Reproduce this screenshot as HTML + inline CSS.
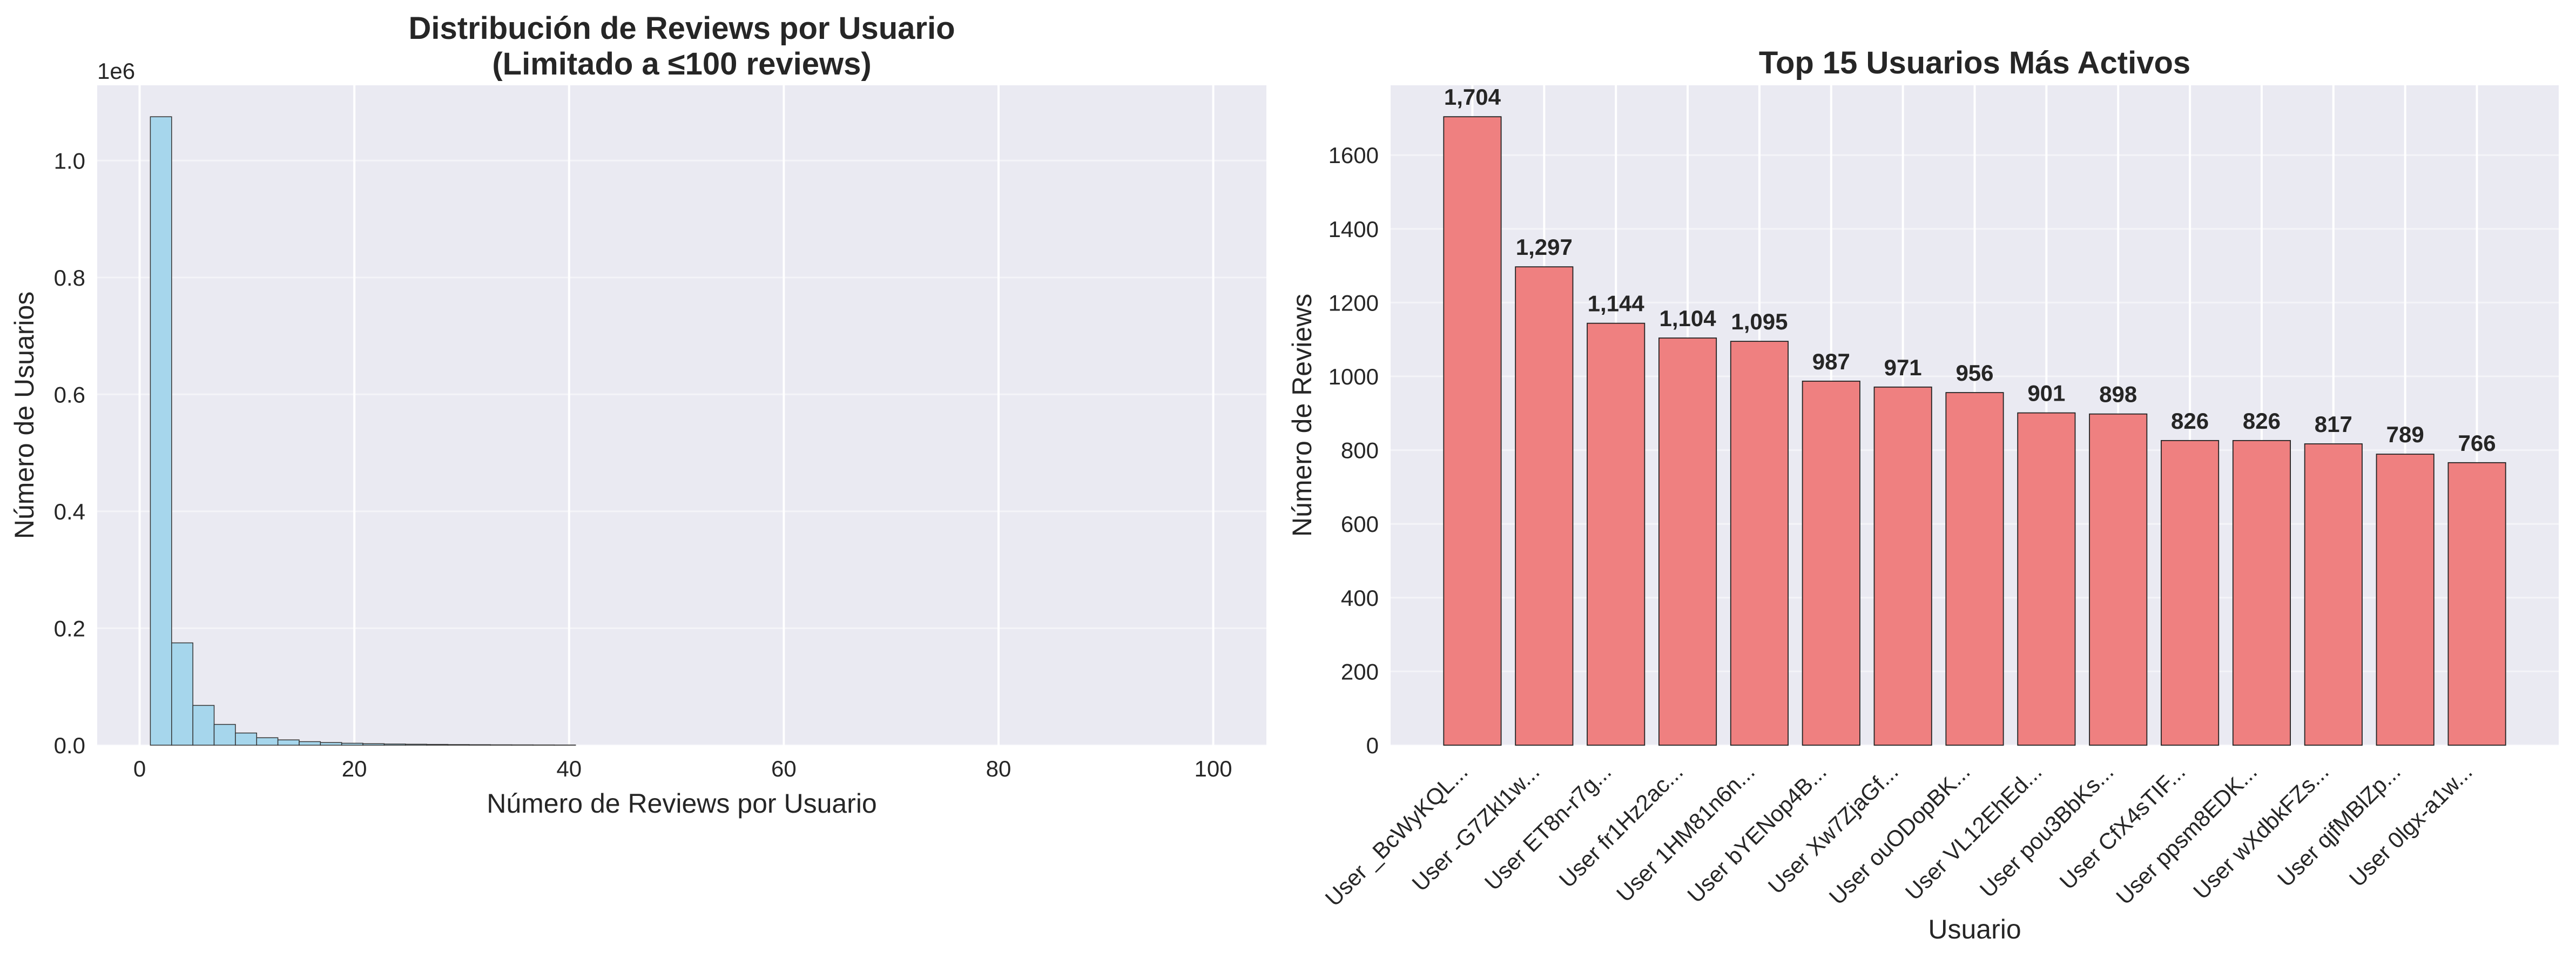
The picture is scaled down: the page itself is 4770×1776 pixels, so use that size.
<!DOCTYPE html>
<html><head><meta charset="utf-8"><style>
html,body{margin:0;padding:0;background:#fff;}
svg{display:block;font-family:"Liberation Sans",sans-serif;}
</style></head><body>
<svg id="fig" width="4770" height="1776" viewBox="0 0 4770 1776" xmlns="http://www.w3.org/2000/svg">
<rect width="4770" height="1776" fill="#fff"/>
<g id="left"></g>
<g id="right"></g>
</svg>
<script>
// ---- Histogram data ----
const histBinStart = 1;
const histBinWidth = 1.98;
const histCounts = [1075000,175000,68000,35500,20800,12700,9000,6000,4500,3300,2500,2000,1600,1300,1000,800,600,500,400,300,0,0,0,0,0,0,0,0,0,0,0,0,0,0,0,0,0,0,0,0,0,0,0,0,0,0,0,0,0,0];
const histXTicks = [0,20,40,60,80,100];
const histYTicks = [0,0.2,0.4,0.6,0.8,1.0];
// ---- Top users data ----
const userNames = ["User _BcWyKQL...","User -G7Zkl1w...","User ET8n-r7g...","User fr1Hz2ac...","User 1HM81n6n...","User bYENop4B...","User Xw7ZjaGf...","User ouODopBK...","User VL12EhEd...","User pou3BbKs...","User CfX4sTIF...","User ppsm8EDK...","User wXdbkFZs...","User qjfMBlZp...","User 0lgx-a1w..."];
const userReviews = [1704,1297,1144,1104,1095,987,971,956,901,898,826,826,817,789,766];
const userYTicks = [0,200,400,600,800,1000,1200,1400,1600];

const NS="http://www.w3.org/2000/svg";
function mk(parent,tag,attrs,text){const e=document.createElementNS(NS,tag);for(const k in attrs)e.setAttribute(k,attrs[k]);if(text!==undefined)e.textContent=text;parent.appendChild(e);return e;}
const TXT="#262626";
const TICK=42, AXT=50, TTL=58, VAL=42;

// ---------- LEFT ----------
(function(){
  const g=document.getElementById('left');
  const L=180,R=2345,T=158,B=1380;
  const xmin=-3.95,xmax=104.95;
  const ymax=Math.max(...histCounts)*1.05;
  const sx=v=>L+(v-xmin)/(xmax-xmin)*(R-L);
  const sy=v=>B-v/ymax*(B-T);
  const bg=mk(g,'rect',{x:L,y:T,width:R-L,height:B-T,fill:'#eaeaf2'});
  
  
  histYTicks.forEach(t=>{
    const y=sy(t*1e6);
    const ln=mk(g,'line',{x1:L,x2:R,y1:y,y2:y,stroke:'#ffffff',"stroke-width":3,opacity:0.5});
    
    
    const tx=mk(g,'text',{x:L-22,y:y+15,"text-anchor":"end","font-size":TICK,fill:TXT},t.toFixed(1));
    
    
  });
  histXTicks.forEach(t=>{
    const x=sx(t);
    const ln=mk(g,'line',{x1:x,x2:x,y1:T,y2:B,stroke:'#ffffff',"stroke-width":4});
    
    
    const tx=mk(g,'text',{x:x,y:B+58,"text-anchor":"middle","font-size":TICK,fill:TXT},String(t));
    
    
  });
  histCounts.forEach((c,i)=>{
    if(c<=0) return;
    const x0=sx(histBinStart+i*histBinWidth),x1=sx(histBinStart+(i+1)*histBinWidth);
    const r=mk(g,'rect',{x:x0,y:sy(c),width:x1-x0,height:B-sy(c),fill:'#a6d6ec',stroke:'#333',"stroke-width":1.5});
    
    
  });
  const s=mk(g,'text',{x:L,y:146,"font-size":TICK,fill:TXT},'1e6');
  
  
  const t1=mk(g,'text',{x:(L+R)/2,y:72,"text-anchor":"middle","font-size":TTL,"font-weight":"bold",fill:TXT},'Distribución de Reviews por Usuario');
  
  
  const t2=mk(g,'text',{x:(L+R)/2,y:138,"text-anchor":"middle","font-size":TTL,"font-weight":"bold",fill:TXT},'(Limitado a ≤100 reviews)');
  
  
  const xl=mk(g,'text',{x:(L+R)/2,y:1505,"text-anchor":"middle","font-size":AXT,fill:TXT},'Número de Reviews por Usuario');
  
  
  const yl=mk(g,'text',{x:0,y:0,"text-anchor":"middle","font-size":AXT,fill:TXT,transform:`translate(62,${(T+B)/2}) rotate(-90)`},'Número de Usuarios');
  
  
})();

// ---------- RIGHT ----------
(function(){
  const g=document.getElementById('right');
  const L=2575,R=4738,T=158,B=1380;
  const n=userReviews.length;
  const xmin=-0.4-0.05*(n-0.2),xmax=n-1+0.4+0.05*(n-0.2);
  const ymax=Math.max(...userReviews)*1.05;
  const sx=v=>L+(v-xmin)/(xmax-xmin)*(R-L);
  const sy=v=>B-v/ymax*(B-T);
  const bg=mk(g,'rect',{x:L,y:T,width:R-L,height:B-T,fill:'#eaeaf2'});
  
  
  userYTicks.forEach(t=>{
    const y=sy(t);
    const ln=mk(g,'line',{x1:L,x2:R,y1:y,y2:y,stroke:'#ffffff',"stroke-width":3,opacity:0.5});
    
    
    const tx=mk(g,'text',{x:L-22,y:y+15,"text-anchor":"end","font-size":TICK,fill:TXT},String(t));
    
    
  });
  userReviews.forEach((v,i)=>{
    const cx=sx(i);
    const ln=mk(g,'line',{x1:cx,x2:cx,y1:T,y2:B,stroke:'#ffffff',"stroke-width":4});
    
    
  });
  userReviews.forEach((v,i)=>{
    const cx=sx(i),x0=sx(i-0.4),x1=sx(i+0.4);
    const r=mk(g,'rect',{x:x0,y:sy(v),width:x1-x0,height:B-sy(v),fill:'#ef8080',stroke:'#222',"stroke-width":1.8});
    
    
    const lb=mk(g,'text',{x:cx,y:sy(v)-22,"text-anchor":"middle","font-size":VAL,"font-weight":"bold",fill:TXT},v.toLocaleString('en-US'));
    
    
    const tl=mk(g,'text',{x:0,y:0,"text-anchor":"end","font-size":TICK,fill:TXT,transform:`translate(${cx-6},${B+52}) rotate(-45)`},userNames[i]);
    
    
  });
  const t=mk(g,'text',{x:(L+R)/2,y:136,"text-anchor":"middle","font-size":TTL,"font-weight":"bold",fill:TXT},'Top 15 Usuarios Más Activos');
  
  
  const xl=mk(g,'text',{x:(L+R)/2,y:1738,"text-anchor":"middle","font-size":AXT,fill:TXT},'Usuario');
  
  
  const yl=mk(g,'text',{x:0,y:0,"text-anchor":"middle","font-size":AXT,fill:TXT,transform:`translate(2428,${(T+B)/2}) rotate(-90)`},'Número de Reviews');
  
  
})();
</script>
</body></html>
